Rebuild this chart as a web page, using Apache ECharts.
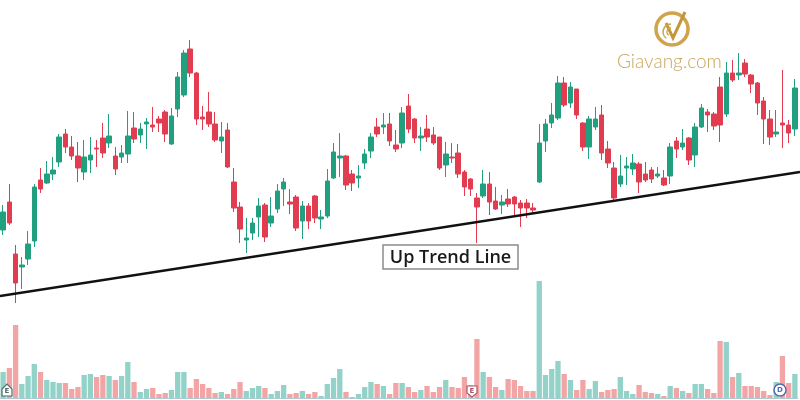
<!DOCTYPE html>
<html>
<head>
<meta charset="utf-8">
<script src="https://cdn.jsdelivr.net/npm/echarts@6/dist/echarts.min.js"></script>
<style>html,body{margin:0;padding:0;background:#fff}#c{width:800px;height:400px}</style>
</head>
<body>
<div id="c"></div>
<script>
const opens = [170,198,146,133,141,159,220,217,226,238,
266,253,244,228,240,252,262,257,244,243,
246,272,265,276,275,281,288,256,291,305,
351,327,283,288,276,259,270,218,193,160,
167,183,195,177,191,211,198,203,179,194,
204,181,184,222,242,244,226,222,237,249,
273,273,276,255,257,294,281,262,271,265,
263,235,243,247,228,221,202,204,216,199,
195,201,203,197,197,192,218,259,277,282,
317,297,311,277,253,273,285,251,232,216,
232,231,236,226,230,224,222,224,259,253,
262,245,273,288,286,313,286,327,325,337,
325,317,299,281,266,277,275,271];
const closes = [188,177,117,135,156,213,211,226,230,263,
253,244,232,243,245,251,247,264,231,247,
264,261,271,278,273,277,266,284,323,347,
327,281,281,276,260,263,233,192,171,162,
177,194,163,184,209,218,196,172,194,179,
182,183,219,248,244,215,217,224,246,263,
266,275,259,251,287,271,262,264,263,257,
232,246,242,226,213,211,193,216,198,191,
198,196,196,192,192,190,257,276,285,317,
295,313,285,253,281,281,247,237,202,224,
234,237,218,220,221,226,215,253,251,257,
240,273,292,285,274,275,327,320,327,326,
316,297,281,263,268,275,267,312];
const lows = [165,175,97,111,135,153,207,216,220,233,
247,240,218,220,227,233,242,252,225,237,
237,257,257,251,268,268,258,255,283,303,
323,275,270,273,258,247,232,188,157,147,
160,163,158,173,187,194,186,169,161,171,
177,171,182,221,223,210,209,212,231,242,
263,266,254,248,252,267,257,249,258,255,
230,223,237,222,204,204,157,202,185,190,
186,193,184,173,182,187,217,248,272,280,
293,292,281,249,241,270,240,232,199,213,
215,225,207,218,217,222,214,216,242,250,
235,233,272,268,270,258,283,318,320,323,
307,285,256,255,263,252,257,264];
const highs = [195,216,155,143,169,216,232,239,243,266,
271,264,258,260,263,260,277,286,253,255,
289,288,277,282,293,284,290,292,328,350,
360,328,294,308,288,278,277,232,198,182,
182,202,197,203,216,222,211,205,199,197,
205,190,231,257,267,245,230,235,251,267,
282,287,287,270,293,306,282,273,285,273,
263,258,257,256,230,222,207,230,228,213,
205,211,204,200,201,197,276,281,297,324,
323,318,311,278,284,293,295,259,238,245,
243,246,238,238,233,233,230,257,263,271,
263,277,296,291,288,323,338,340,347,341,
326,318,303,290,290,330,280,321];
const volumes = [26,30,73,14,22,34,26,18,16,15,
15,9,11,23,24,21,23,22,18,22,
36,16,6,9,10,4,5,8,26,26,
10,19,14,10,5,6,4,9,16,7,
10,12,10,4,7,13,4,5,7,4,
6,2,14,20,29,6,1,4,11,16,
14,12,4,15,15,11,6,8,12,6,
11,18,11,10,21,13,59,26,21,11,
8,19,18,12,7,7,117,23,29,37,
24,18,8,18,9,17,6,8,9,21,
7,4,13,6,5,4,2,12,10,7,
5,14,14,9,5,57,56,21,25,12,
12,11,7,3,16,42,15,24];
const trendX = [0, 800];
const trendY = [104, 228];
const trendLabel = 'Up Trend Line';
const logoText = 'Giavang.com';

const categories = opens.map((_, i) => i);
const candleData = opens.map((o, i) => [o, closes[i], lows[i], highs[i]]);
const UP = '#21a07f', DOWN = '#e23c50', VUP = '#92d2c9', VDOWN = '#f3a5a6', GOLD = '#cfa44c';

const chart = echarts.init(document.getElementById('c'), null, {renderer: 'canvas'});
chart.setOption({
  animation: false,
  backgroundColor: '#fff',
  grid: [
    {left: -2, width: 800, top: 0, height: 400},
    {left: -2, width: 800, top: 0, height: 398},
    {left: 0, width: 800, top: 0, height: 400}
  ],
  xAxis: [
    {type: 'category', data: categories, gridIndex: 0, show: false, boundaryGap: true},
    {type: 'category', data: categories, gridIndex: 1, boundaryGap: true,
      axisLine: {show: true, lineStyle: {color: '#a9cdd0', width: 1}},
      axisTick: {show: false}, axisLabel: {show: false}, splitLine: {show: false}},
    {type: 'value', gridIndex: 2, min: 0, max: 800, show: false}
  ],
  yAxis: [
    {type: 'value', gridIndex: 0, min: 0, max: 400, show: false},
    {type: 'value', gridIndex: 1, min: 0, max: 398, show: false},
    {type: 'value', gridIndex: 2, min: 0, max: 400, show: false}
  ],
  series: [
    {
      type: 'bar', xAxisIndex: 1, yAxisIndex: 1, data: volumes, barWidth: 5.3, z: 1,
      itemStyle: {color: p => closes[p.dataIndex] >= opens[p.dataIndex] ? VUP : VDOWN}
    },
    {
      type: 'candlestick', xAxisIndex: 0, yAxisIndex: 0, data: candleData, barWidth: 5, z: 3,
      itemStyle: {color: UP, color0: DOWN, borderColor: UP, borderColor0: DOWN, borderWidth: 1}
    },
    {
      type: 'line', xAxisIndex: 2, yAxisIndex: 2, data: trendX.map((x, i) => [x, trendY[i]]),
      symbol: 'none', z: 5, lineStyle: {color: '#111', width: 2.5}
    }
  ],
  graphic: [
    {type: 'rect', z: 100, shape: {x: 383, y: 245, width: 135, height: 24},
      style: {fill: '#fff', stroke: '#8c8c8c', lineWidth: 1.5}},
    {type: 'text', z: 101, x: 450.5, y: 257.5,
      style: {text: trendLabel, fill: '#1a1a1a', font: '600 18px "Open Sans"', align: 'center', verticalAlign: 'middle'}},
    {type: 'circle', z: 100, shape: {cx: 672, cy: 29, r: 16}, style: {fill: 'none', stroke: GOLD, lineWidth: 3.5}},
    {type: 'polyline', z: 101, shape: {points: [[666, 23], [673, 38], [685, 12]]}, style: {stroke: '#c4963c', lineWidth: 3, fill: 'none'}},
    {type: 'arc', z: 101, shape: {cx: 671, cy: 32, r: 4, startAngle: Math.PI * 0.7, endAngle: Math.PI * 1.5}, style: {stroke: GOLD, lineWidth: 1.5, fill: 'none'}},
    {type: 'arc', z: 101, shape: {cx: 671, cy: 32, r: 8, startAngle: Math.PI * 0.7, endAngle: Math.PI * 1.5}, style: {stroke: GOLD, lineWidth: 1.5, fill: 'none'}},
    {type: 'text', z: 101, x: 617, y: 62,
      style: {text: logoText, fill: '#c9a55a', font: '300 19px Lato', verticalAlign: 'middle'}},
    {type: 'polygon', z: 100, shape: {points: [[2, 396], [2, 389], [7, 384], [12, 389], [12, 396]]},
      style: {fill: '#fff', stroke: '#4f6d6d', lineWidth: 1.2}},
    {type: 'text', z: 101, x: 7, y: 391, style: {text: 'E', fill: '#4f6d6d', font: 'bold 7px "DejaVu Sans"', align: 'center', verticalAlign: 'middle'}},
    {type: 'polygon', z: 100, shape: {points: [[467, 386], [477, 386], [477, 393], [472, 397], [467, 393]]},
      style: {fill: '#fff', stroke: '#a8586a', lineWidth: 1.2}},
    {type: 'text', z: 101, x: 472, y: 391, style: {text: 'E', fill: '#a8586a', font: 'bold 7px "DejaVu Sans"', align: 'center', verticalAlign: 'middle'}},
    {type: 'circle', z: 100, shape: {cx: 780, cy: 390, r: 6}, style: {fill: '#fff', stroke: '#5468b0', lineWidth: 1.5}},
    {type: 'text', z: 101, x: 780, y: 390, style: {text: 'D', fill: '#5468b0', font: 'bold 7px "DejaVu Sans"', align: 'center', verticalAlign: 'middle'}}
  ]
});
</script>
</body>
</html>
